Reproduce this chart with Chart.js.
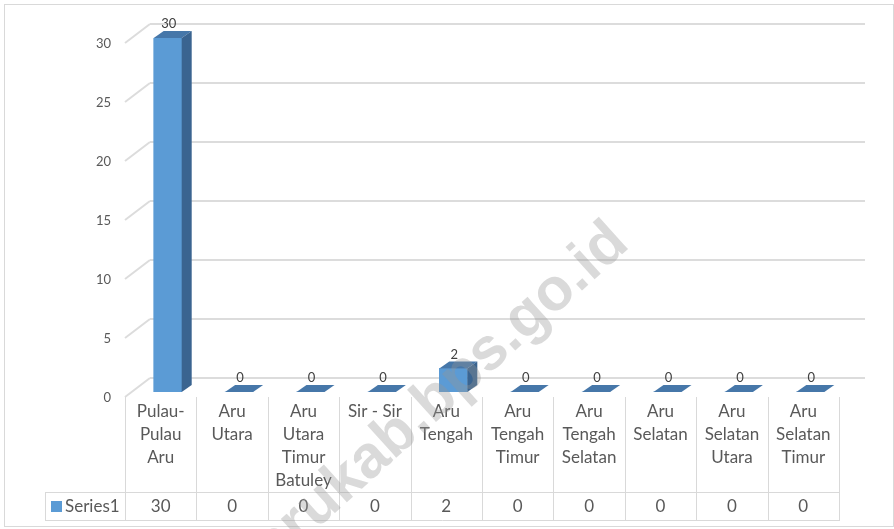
<!DOCTYPE html>
<html>
<head>
<meta charset="utf-8">
<script src="https://cdn.jsdelivr.net/npm/chart.js@4.4.1/dist/chart.umd.min.js"></script>
<style>
  html, body { margin: 0; padding: 0; background: #ffffff; }
  #c { display: block; }
</style>
</head>
<body>
<canvas id="c" width="894" height="529"></canvas>
<script>
// ---- data ----
const categories = [
  ['Pulau-', 'Pulau', 'Aru'],
  ['Aru', 'Utara'],
  ['Aru', 'Utara', 'Timur', 'Batuley'],
  ['Sir - Sir'],
  ['Aru', 'Tengah'],
  ['Aru', 'Tengah', 'Timur'],
  ['Aru', 'Tengah', 'Selatan'],
  ['Aru', 'Selatan'],
  ['Aru', 'Selatan', 'Utara'],
  ['Aru', 'Selatan', 'Timur']
];
const seriesName = 'Series1';
const values = [30, 0, 0, 0, 2, 0, 0, 0, 0, 0];
const yMax = 30;
const yStep = 5;
const watermark = 'arukab.bps.go.id';

// ---- style ----
const FRONT = '#5b9bd5';
const TOP = '#4677a9';
const SIDE = '#3a6490';
const GRID = '#d9d9d9';
const TEXT = '#595959';
const DEPTH_X = 10, DEPTH_Y = -7;   // bar depth
const BACK_X = 25, BACK_Y = -14;    // back wall offset
const SHIFT = 7;                    // bar shift inside category

const plugin3d = {
  id: 'plugin3d',
  beforeDraw(chart) {
    const ctx = chart.ctx;
    ctx.save();
    ctx.fillStyle = '#fff';
    ctx.fillRect(0, 0, chart.width, chart.height);
    ctx.strokeStyle = GRID;
    ctx.lineWidth = 1;
    ctx.strokeRect(4.5, 4.5, 889, 522);
    ctx.restore();
  },
  beforeDatasetsDraw(chart) {
    const ctx = chart.ctx;
    const ys = chart.scales.y, area = chart.chartArea;
    ctx.save();
    for (let v = 0; v <= yMax; v += yStep) {
      const p = ys.getPixelForValue(v);
      ctx.strokeStyle = '#dcdcdc';
      ctx.lineWidth = 2;
      ctx.beginPath();
      ctx.moveTo(area.left + BACK_X, p + BACK_Y);
      ctx.lineTo(area.right + BACK_X + 1, p + BACK_Y);
      ctx.stroke();
      ctx.beginPath();
      ctx.moveTo(area.left, p + 5);
      ctx.lineTo(area.left + BACK_X, p + BACK_Y);
      ctx.stroke();
    }
    ctx.restore();
    ctx.save();
    ctx.translate(SHIFT, 0);
  },
  afterDatasetsDraw(chart) {
    const ctx = chart.ctx;
    ctx.restore();
    const meta = chart.getDatasetMeta(0);
    ctx.save();
    meta.data.forEach((bar, i) => {
      const p = bar.getProps(['x', 'y', 'base', 'width'], true);
      const x0 = p.x - p.width / 2 + SHIFT, x1 = p.x + p.width / 2 + SHIFT;
      const top = Math.min(p.y, p.base), base = p.base;
      ctx.fillStyle = TOP;
      ctx.beginPath();
      ctx.moveTo(x0, top); ctx.lineTo(x1, top);
      ctx.lineTo(x1 + DEPTH_X, top + DEPTH_Y); ctx.lineTo(x0 + DEPTH_X, top + DEPTH_Y);
      ctx.closePath(); ctx.fill();
      if (base - top > 0.5) {
        ctx.fillStyle = SIDE;
        ctx.beginPath();
        ctx.moveTo(x1, top); ctx.lineTo(x1 + DEPTH_X, top + DEPTH_Y);
        ctx.lineTo(x1 + DEPTH_X, base + DEPTH_Y); ctx.lineTo(x1, base);
        ctx.closePath(); ctx.fill();
      }
      ctx.fillStyle = '#404040';
      ctx.font = '13px Lato';
      ctx.textAlign = 'center';
      ctx.textBaseline = 'middle';
      ctx.fillText(String(values[i]), (x0 + x1) / 2 + 1, top - 14);
    });
    ctx.restore();
  },
  afterDraw(chart) {
    const ctx = chart.ctx;
    const xs = chart.scales.x, area = chart.chartArea;
    const n = categories.length;
    const step = (area.right - area.left) / n;
    const tableTop = area.bottom + 5, rowTop = 492, rowBottom = 520, legendLeft = 45;
    ctx.save();
    ctx.strokeStyle = GRID;
    ctx.lineWidth = 1;
    ctx.beginPath();
    for (let i = 0; i <= n; i++) {
      const x = Math.round(area.left + i * step) + 0.5;
      ctx.moveTo(x, tableTop); ctx.lineTo(x, rowBottom);
    }
    ctx.moveTo(legendLeft + 0.5, rowTop); ctx.lineTo(legendLeft + 0.5, rowBottom);
    ctx.moveTo(legendLeft, rowTop + 0.5); ctx.lineTo(area.right + 1, rowTop + 0.5);
    ctx.moveTo(legendLeft, rowBottom + 0.5); ctx.lineTo(area.right + 1, rowBottom + 0.5);
    ctx.stroke();
    ctx.fillStyle = TEXT;
    ctx.font = '17px Lato';
    ctx.textAlign = 'center';
    ctx.textBaseline = 'middle';
    values.forEach((v, i) => {
      ctx.fillText(String(v), xs.getPixelForValue(i), (rowTop + rowBottom) / 2 + 1);
    });
    ctx.fillStyle = FRONT;
    ctx.fillRect(51, 501, 11, 11);
    ctx.fillStyle = TEXT;
    ctx.textAlign = 'left';
    ctx.fillText(seriesName, 65, (rowTop + rowBottom) / 2 + 1);
    // watermark
    ctx.translate(620, 234);
    ctx.rotate(-42 * Math.PI / 180);
    ctx.font = 'bold 60px "Liberation Sans"';
    ctx.fillStyle = 'rgba(150,150,150,0.35)';
    ctx.textAlign = 'right';
    ctx.textBaseline = 'middle';
    ctx.fillText(watermark, 0, 0);
    ctx.restore();
  }
};

new Chart(document.getElementById('c'), {
  type: 'bar',
  data: {
    labels: categories,
    datasets: [{
      label: seriesName,
      data: values,
      backgroundColor: FRONT,
      borderWidth: 0,
      barThickness: 28
    }]
  },
  options: {
    responsive: false,
    animation: false,
    events: [],
    layout: { padding: { left: 0, right: 55, top: 38, bottom: 37 } },
    plugins: { legend: { display: false }, tooltip: { enabled: false } },
    scales: {
      x: {
        grid: { display: false, drawTicks: false },
        border: { display: false },
        ticks: {
          autoSkip: false, maxRotation: 0, minRotation: 0, padding: 8,
          color: TEXT, font: { family: 'Lato', size: 17, lineHeight: '23px' }
        },
        afterFit(s) { s.height = 100; }
      },
      y: {
        min: 0, max: yMax,
        grid: { display: false, drawTicks: false },
        border: { display: false },
        ticks: {
          stepSize: yStep, padding: 14, labelOffset: 6,
          color: TEXT, font: { family: 'Lato', size: 13 }
        },
        afterFit(s) { s.width = 125; }
      }
    }
  },
  plugins: [plugin3d]
});
</script>
</body>
</html>
